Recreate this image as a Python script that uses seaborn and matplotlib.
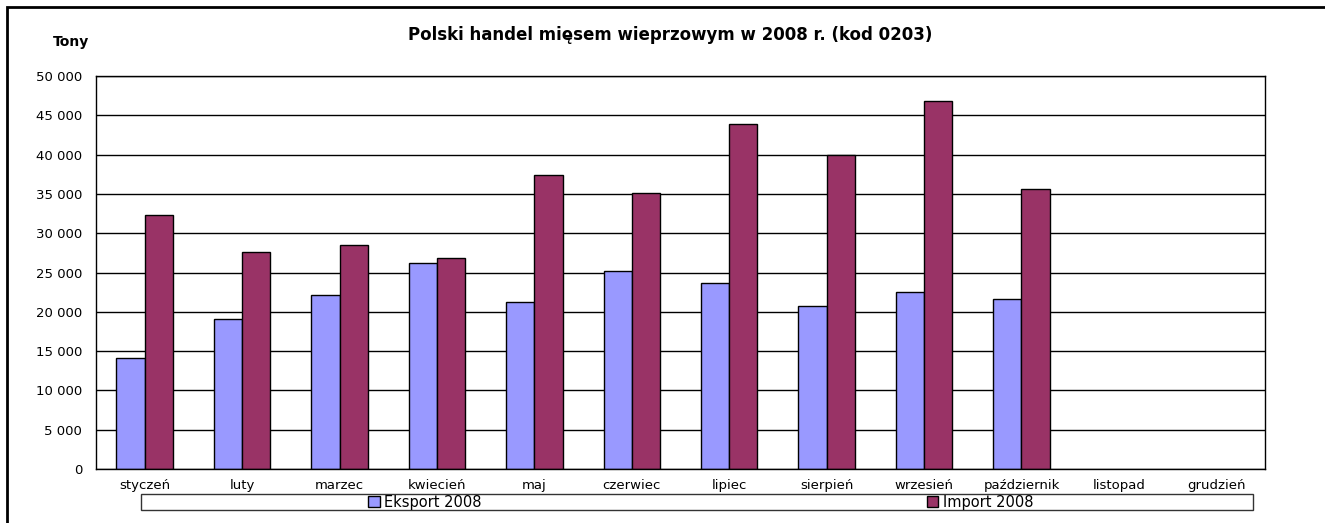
import numpy as np
import pandas as pd
import matplotlib
matplotlib.use("Agg")
import matplotlib.pyplot as plt
import matplotlib.ticker as mticker
from matplotlib.patches import Patch, Rectangle
import seaborn as sns

sns.set_style("white")
plt.rcParams["font.family"] = ["DejaVu Sans"]
plt.rcParams["text.color"] = "black"
plt.rcParams["xtick.color"] = "black"
plt.rcParams["ytick.color"] = "black"

# ==========================
# DATA
# ==========================

months = ["styczeń", "luty", "marzec", "kwiecień", "maj", "czerwiec",
          "lipiec", "sierpień", "wrzesień", "październik", "listopad", "grudzień"]

eksport = [14100, 19100, 22200, 26150, 21300, 25200,
           23700, 20800, 22500, 21600, None, None]

import_ = [32300, 27600, 28450, 26800, 37400, 35150,
           43850, 39900, 46800, 35600, None, None]

series = ["Eksport 2008", "Import 2008"]
colors = ["#9999FF", "#993366"]

y_ticks = list(range(0, 50001, 5000))

df = pd.DataFrame({
    "miesiac": months * 2,
    "tony": pd.to_numeric(pd.Series(eksport + import_), errors="coerce"),
    "seria": [series[0]] * len(months) + [series[1]] * len(months),
})

# ==========================
# FIGURE
# ==========================

fig = plt.figure(figsize=(13.25, 5.23), dpi=100)
ax = fig.add_axes([96 / 1325, 1 - 469 / 523, (1265 - 96) / 1325, (469 - 76) / 523])

sns.barplot(
    data=df,
    x="miesiac",
    y="tony",
    hue="seria",
    order=months,
    hue_order=series,
    palette=colors,
    saturation=1,
    width=0.58,
    edgecolor="black",
    linewidth=1,
    errorbar=None,
    legend=False,
    ax=ax,
)

ax.set_xlim(-0.5, len(months) - 0.5)
ax.set_ylim(0, 50000)
ax.set_yticks(y_ticks)
ax.yaxis.set_major_formatter(
    mticker.FuncFormatter(lambda v, p: f"{v:,.0f}".replace(",", " "))
)
ax.set_xlabel("")
ax.set_ylabel("")

# gridlines + spines
ax.set_axisbelow(True)
ax.yaxis.grid(True, color="black", linewidth=1)
for s in ax.spines.values():
    s.set_color("black")
    s.set_linewidth(1)

ax.tick_params(axis="y", direction="out", length=4, width=1, color="black",
               labelsize=9.5, pad=6)
ax.tick_params(axis="x", which="major", length=0, labelsize=9.5, pad=7)
ax.set_xticks(np.arange(-0.5, len(months), 1), minor=True)
ax.tick_params(axis="x", which="minor", direction="out", length=4, width=1, color="black")

# ==========================
# TEXTS
# ==========================

fig.text(670 / 1325, 1 - 35 / 523, "Polski handel mięsem wieprzowym w 2008 r. (kod 0203)",
         ha="center", va="center", fontsize=12, fontweight="bold")
fig.text(71 / 1325, 1 - 42 / 523, "Tony", ha="center", va="center",
         fontsize=10, fontweight="bold")

# ==========================
# LEGEND (box + two entries)
# ==========================

fig.patches.append(Rectangle((141 / 1325, 1 - 510 / 523), 1112 / 1325, 16 / 523,
                             transform=fig.transFigure, facecolor="white",
                             edgecolor="#333333", linewidth=1))

for name, col, xc in zip(series, colors, [425, 980]):
    fig.legend(handles=[Patch(facecolor=col, edgecolor="black", label=name)],
               loc="center", bbox_to_anchor=(xc / 1325, 1 - 502 / 523),
               frameon=False, fontsize=10.5, handlelength=0.8, handleheight=0.8,
               handletextpad=0.3, borderpad=0)

# outer frame (cut off at right and bottom)
fig.patches.append(Rectangle((7 / 1325, -0.1), 1.2, 1.1 - 7 / 523,
                             transform=fig.transFigure, fill=False,
                             edgecolor="black", linewidth=2))

fig.savefig("out.png", dpi=100)
